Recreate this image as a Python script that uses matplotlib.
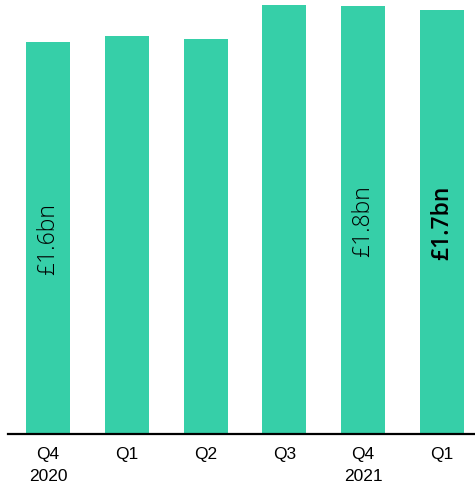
import matplotlib
matplotlib.use("Agg")
import matplotlib.pyplot as plt

# quarterly revenue, £bn
quarters = ["Q4\n2020", "Q1", "Q2", "Q3", "Q4\n2021", "Q1"]
revenue = [1.612, 1.637, 1.623, 1.765, 1.759, 1.743]
labelled = {0: 300, 4: 300, 5: 600}  # bar index -> label weight

bar_color = "#36CFA8"

fig = plt.figure(figsize=(4.75, 4.85), dpi=100)
ax = fig.add_axes([8 / 475, 50.5 / 485, 467 / 475, 434.5 / 485])

x = range(len(revenue))
ax.bar(x, revenue, width=0.56, color=bar_color)

for i, weight in labelled.items():
    v = revenue[i]
    ax.text(i, v / 2, f"£{v:.1f}bn", rotation=90, ha="center", va="center",
            fontsize=16.5, fontfamily="Open Sans", fontweight=weight,
            color="black")

ax.set_xlim(-0.51, 5.42)
ax.set_ylim(0, 1.788)
ax.set_xticks(list(x))
ax.set_xticklabels(quarters, fontsize=12.5, fontfamily="Liberation Sans",
                   linespacing=1.55)
ax.tick_params(axis="x", length=0, pad=9)
ax.set_yticks([])

for side in ("top", "right", "left"):
    ax.spines[side].set_visible(False)
ax.spines["bottom"].set_linewidth(1.6)

fig.savefig("out.png", dpi=100)
